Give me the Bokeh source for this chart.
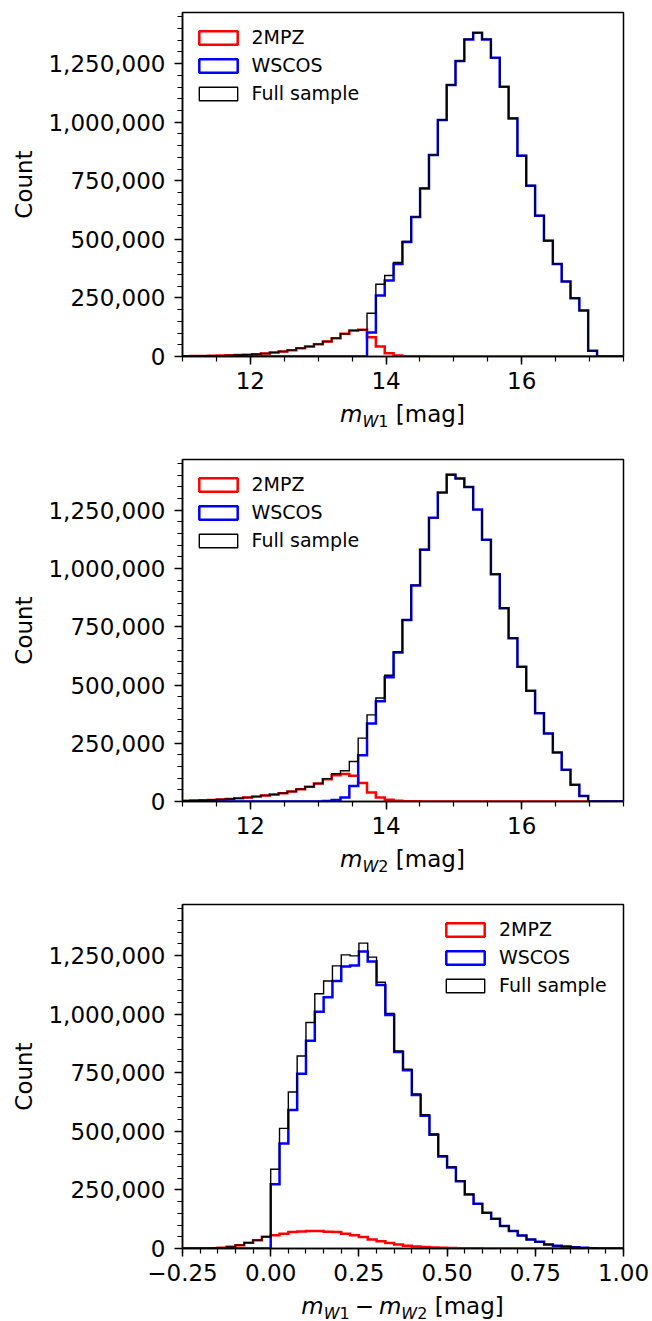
import numpy as np
from bokeh.plotting import figure
from bokeh.models import Range1d, FixedTicker, NumeralTickFormatter, Legend, LegendItem, Div
from bokeh.layouts import column
from bokeh.embed import file_html
from bokeh.resources import INLINE

# ---------------- data ----------------
# magnitude histograms (panels 1 and 2): common bins
mag_bin_start = 10.851
mag_bin_width = 0.1304

w1_2mpz = [1000, 1300, 1700, 2300, 3000, 3800, 5000, 6300, 8000, 10000,
           12800, 17100, 21300, 27000, 35600, 42700, 52700, 64000, 78300, 96800,
           111000, 113800, 82400, 42700, 14000, 4300, 1600, 900, 600, 450,
           350, 300, 250, 220, 200, 180, 160, 140, 120, 100,
           90, 80, 70, 60, 50, 40, 30, 20, 0, 0,
           0, 0]
w1_wscos = [0, 0, 0, 0, 0, 0, 0, 0, 0, 0,
            0, 0, 0, 0, 0, 0, 0, 0, 0, 0,
            0, 0, 102400, 260000, 324000, 395000, 489000, 595000, 717000, 860000,
            1009000, 1159000, 1261000, 1353000, 1382000, 1353000, 1275000, 1151000, 1016000, 857000,
            729000, 601000, 494000, 395000, 320000, 249000, 196000, 24200, 0, 0,
            0, 0]
w1_full = [1000, 1300, 1700, 2300, 3000, 3800, 5000, 6300, 8000, 10000,
           12800, 17100, 21300, 27000, 35600, 42700, 52700, 64000, 78300, 96800,
           111000, 113800, 184700, 308500, 345500, 401000, 490600, 596000, 718000, 860400,
           1009600, 1159000, 1261300, 1353700, 1382000, 1353700, 1275500, 1151800, 1016700, 857500,
           729500, 601500, 494900, 395300, 320000, 248900, 196200, 24200, 0, 0,
           0, 0]

w2_2mpz = [2200, 3000, 4000, 5200, 6700, 8400, 10800, 13500, 17000, 21000,
           25500, 30000, 35500, 43000, 53000, 63000, 77000, 96000, 113000, 118000,
           110000, 79000, 39000, 17000, 7200, 2900, 1200, 600, 400, 300,
           250, 200, 180, 160, 140, 120, 100, 90, 80, 70,
           60, 50, 40, 30, 20, 10, 0, 0, 0, 0,
           0, 0]
w2_wscos = [0, 0, 0, 0, 0, 0, 0, 0, 0, 0,
            0, 0, 0, 0, 0, 0, 500, 2000, 6000, 17000,
            67000, 199000, 335000, 430000, 533000, 640000, 779000, 927000, 1081000, 1218000,
            1326000, 1403000, 1386000, 1350000, 1253000, 1124000, 975000, 830000, 701000, 578000,
            475000, 379000, 292000, 210000, 136000, 72000, 24000, 0, 0, 0,
            0, 0]
w2_full = [2200, 3000, 4000, 5200, 6700, 8400, 10800, 13500, 17000, 21000,
           25500, 30000, 35500, 43000, 53000, 63000, 77500, 98000, 119000, 132000,
           172000, 272000, 372000, 444000, 542000, 643000, 780400, 928000, 1081500, 1218500,
           1326000, 1403400, 1386200, 1350400, 1253000, 1124100, 975200, 830600, 701700, 578500,
           475400, 379500, 292100, 210500, 136000, 71600, 24300, 0, 0, 0,
           0, 0]

# colour histogram (panel 3)
col_bin_start = -0.25
col_bin_width = 0.025

c_2mpz = [0, 100, 300, 1000, 2900, 7100, 14300, 24300, 35700, 50000,
          57000, 63000, 70000, 73000, 74500, 74500, 72000, 70000, 63000, 57000,
          48600, 38600, 31400, 24000, 17100, 12000, 8500, 6000, 4200, 3000,
          2000, 1400, 1000, 700, 500, 300, 200, 100, 0, 0,
          0, 0, 0, 0, 0, 0, 0, 0, 0, 0]
c_wscos = [0, 0, 0, 0, 0, 0, 0, 0, 0, 0,
           274200, 448400, 591200, 746100, 886100, 1010300, 1071700, 1141700, 1203100, 1207400,
           1267400, 1224500, 1124600, 996000, 838900, 760400, 655000, 567000, 485000, 393000,
           346000, 287000, 230000, 190500, 152300, 126800, 95500, 74200, 55700, 38600,
           28600, 17100, 11400, 8600, 5700, 2900, 1000, 0, 0, 0]
c_full = [0, 100, 300, 1000, 2900, 7100, 14300, 24300, 35700, 50000,
          338400, 512700, 667600, 821800, 964600, 1087400, 1141700, 1206000, 1253100, 1248800,
          1303100, 1243400, 1136000, 1003200, 843200, 764700, 660000, 571200, 488400, 395600,
          348400, 288500, 231300, 191400, 152800, 127100, 95700, 74300, 55700, 38600,
          28600, 17100, 11400, 8600, 5700, 2900, 1000, 0, 0, 0]

series_names = ["2MPZ", "WSCOS", "Full sample"]
mag_ticks = [12, 14, 16]
col_ticks = [-0.25, 0.0, 0.25, 0.5, 0.75, 1.0]
col_tick_labels = ["\u22120.25", "0.00", "0.25", "0.50", "0.75", "1.00"]
count_ticks = [0, 250000, 500000, 750000, 1000000, 1250000]

# ---------------- style ----------------
FONT = "DejaVu Sans"
COLORS = ["#ff0000", "#0000ff", "#000000"]
WIDTHS = [2.5, 2.5, 1.4]
YMAX = 1468000


def step_xy(start, width, counts):
    counts = np.asarray(counts, dtype=float)
    edges = start + width * np.arange(len(counts) + 1)
    xs = np.repeat(edges, 2)
    ys = np.concatenate([[0.0], np.repeat(counts, 2), [0.0]])
    return xs, ys


def make_panel(height, top, frame_h, xr, start, width, series,
               xticks, xminor, overrides, legend_x):
    p = figure(width=652, height=height, output_backend="svg", toolbar_location=None,
               x_range=Range1d(*xr), y_range=Range1d(0, YMAX),
               min_border_left=182, min_border_right=29,
               min_border_top=top, min_border_bottom=height - top - frame_h,
               background_fill_color="white", border_fill_color="white")
    p.grid.visible = False
    p.outline_line_color = "black"
    p.outline_line_width = 1.5
    p.outline_line_alpha = 1.0

    for counts, col, lw in zip(series, COLORS, WIDTHS):
        xs, ys = step_xy(start, width, counts)
        p.line(xs, ys, line_color=col, line_width=lw, line_join="miter")

    # legend swatches: outlined, unfilled boxes (no visible mark in the plot)
    renderers = []
    for col, lw in zip(COLORS, WIDTHS):
        q = p.quad(left=[np.nan], right=[np.nan], top=[np.nan], bottom=[np.nan],
                   fill_alpha=0, line_color=col, line_width=lw)
        renderers.append(q)

    legend = Legend(items=[LegendItem(label=n, renderers=[r]) for n, r in zip(series_names, renderers)],
                    location=(legend_x, frame_h - 14 - 78), padding=0, margin=0, spacing=6,
                    glyph_width=48, glyph_height=17, label_height=22, label_standoff=10,
                    label_text_font=FONT, label_text_font_size="19px", label_text_color="black",
                    border_line_alpha=0, background_fill_alpha=0)
    p.add_layout(legend)

    for ax in (p.xaxis[0], p.yaxis[0]):
        ax.axis_line_width = 1.5
        ax.major_tick_line_width = 1.5
        ax.minor_tick_line_width = 1.2
        ax.major_tick_out = 8
        ax.major_tick_in = 0
        ax.minor_tick_out = 5
        ax.minor_tick_in = 0
        ax.major_label_text_font = FONT
        ax.major_label_text_font_size = "23px"
        ax.major_label_text_color = "black"
        ax.axis_line_color = "black"
        ax.major_tick_line_color = "black"
        ax.minor_tick_line_color = "black"

    p.xaxis.ticker = FixedTicker(ticks=xticks, minor_ticks=xminor)
    if overrides:
        p.xaxis.major_label_overrides = overrides
    p.xaxis.major_label_standoff = 7

    p.yaxis.ticker = FixedTicker(ticks=count_ticks,
                                 minor_ticks=list(np.arange(0, YMAX, 50000)))
    p.yaxis.formatter = NumeralTickFormatter(format="0,0")
    p.yaxis.major_label_standoff = 9
    p.yaxis.axis_label = "Count"
    p.yaxis.axis_label_text_font = FONT
    p.yaxis.axis_label_text_font_size = "23px"
    p.yaxis.axis_label_text_font_style = "normal"
    p.yaxis.axis_label_text_color = "black"
    p.yaxis.axis_label_standoff = 8
    return p


SUB = 'style="font-size:16px; position:relative; top:5px; line-height:0;"'


def xlabel_div(inner, height):
    html = ('<div style="margin-left:182px; width:441px; text-align:center; '
            'font-family:\'DejaVu Sans\'; font-size:23px; line-height:28px; '
            'color:black; white-space:nowrap;">' + inner + '</div>')
    return Div(text=html, width=652, height=height, margin=0)


lab_w1 = '<i>m</i><span ' + SUB + '><i>W</i>1</span> [mag]'
lab_w2 = '<i>m</i><span ' + SUB + '><i>W</i>2</span> [mag]'
lab_col = ('<i>m</i><span ' + SUB + '><i>W</i>1</span>'
           '<span style="margin:0 5px;">\u2212</span>'
           '<i>m</i><span ' + SUB + '><i>W</i>2</span> [mag]')

mag_minor = list(np.arange(11.0, 17.51, 0.5))
col_minor = list(np.round(np.arange(-0.25, 1.001, 0.05), 3))

p1 = make_panel(400, 12, 344, (11.0, 17.5), mag_bin_start, mag_bin_width,
                [w1_2mpz, w1_wscos, w1_full], mag_ticks, mag_minor, None, 11.5)
p2 = make_panel(397, 11, 342, (11.0, 17.5), mag_bin_start, mag_bin_width,
                [w2_2mpz, w2_wscos, w2_full], mag_ticks, mag_minor, None, 11.5)
p3 = make_panel(399, 11, 344, (-0.25, 1.0), col_bin_start, col_bin_width,
                [c_2mpz, c_wscos, c_full], col_ticks, col_minor,
                {t: s for t, s in zip(col_ticks, col_tick_labels)}, 259)

layout = column(p1, xlabel_div(lab_w1, 48), p2, xlabel_div(lab_w2, 48),
                p3, xlabel_div(lab_col, 29), spacing=0)
open("out.html", "w").write(file_html(layout, INLINE))
